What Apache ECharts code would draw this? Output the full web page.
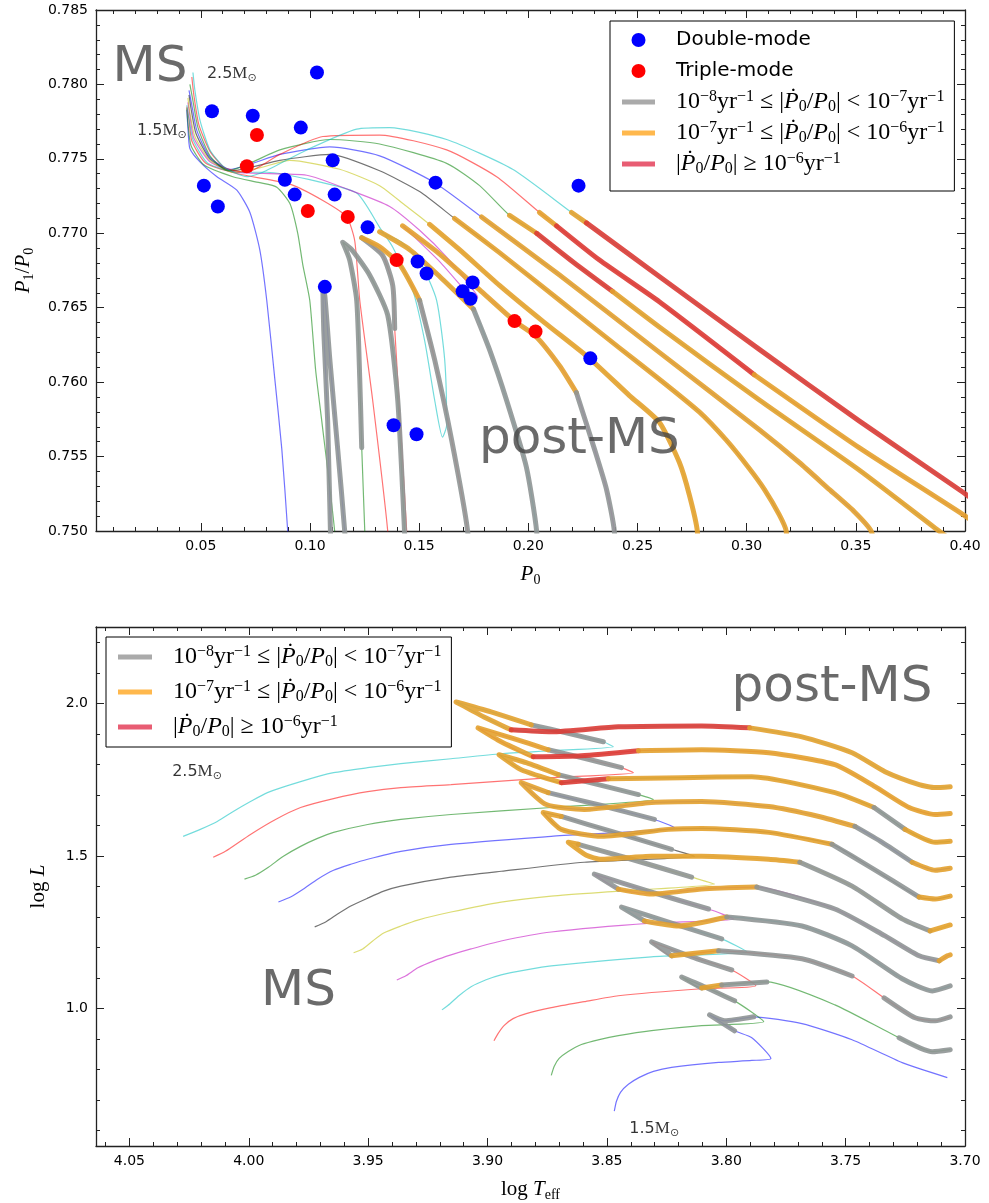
<!DOCTYPE html>
<html><head><meta charset="utf-8">
<script src="https://cdn.jsdelivr.net/npm/echarts@6/dist/echarts.min.js"></script>
<style>html,body{margin:0;padding:0;background:#fff;}#chart{width:989px;height:1203px;}</style>
</head><body><div id="chart"></div>
<script>
// ---------------- DATA ----------------
const masses = ['1.5','1.6','1.7','1.8','1.9','2.0','2.1','2.2','2.3','2.4','2.5'];
const thinColors = ['#0000ff','#008000','#ff0000','#00bfbf','#bf00bf','#bfbf00','#000000','#0000ff','#008000','#ff0000','#00bfbf'];
// category codes: 0 = thin only, 1 = 1e-8..1e-7, 2 = 1e-7..1e-6, 3 = >=1e-6 (per yr)
// Top panel: [P0, P1/P0, category of segment to next point]
const top15 = [[0.0436,0.7783,0],[0.0441,0.7771,0],[0.0450,0.7757,0],[0.0496,0.7748,0],[0.0574,0.7738,0],[0.0665,0.7729,0],[0.0725,0.7714,0],[0.0770,0.7689,0],[0.0802,0.7655,0],[0.0839,0.7602,0],[0.0871,0.7555,0],[0.0898,0.7500,0],[0.0912,0.7460,0],[0.1100,0.7460,1],[0.1081,0.7574,1],[0.1063,0.7635,1],[0.1059,0.7663,1],[0.1068,0.7658,1],[0.1091,0.7615,1],[0.1127,0.7555,1],[0.1159,0.7500,1],[0.1173,0.7460,1]];
const top16 = [[0.0436,0.7784,0],[0.0441,0.7774,0],[0.0455,0.7759,0],[0.0514,0.7746,0],[0.0647,0.7738,0],[0.0770,0.7734,0],[0.0848,0.7731,0],[0.0908,0.7720,0],[0.0944,0.7700,0],[0.0967,0.7679,0],[0.0999,0.7655,0],[0.1026,0.7608,0],[0.1054,0.7574,0],[0.1113,0.7500,0],[0.1127,0.7460,0],[0.1260,0.7460,0],[0.1251,0.7500,0],[0.1237,0.7556,1],[0.1228,0.7602,1],[0.1214,0.7655,1],[0.1182,0.7682,1],[0.1150,0.7694,1],[0.1191,0.7689,1],[0.1273,0.7672,1],[0.1356,0.7645,1],[0.1402,0.7588,1],[0.1433,0.7500,1],[0.1443,0.7460,1]];
const top17 = [[0.0436,0.7785,0],[0.0446,0.7776,0],[0.0459,0.7762,0],[0.0523,0.7747,0],[0.0670,0.7740,0],[0.0908,0.7733,0],[0.1059,0.7722,0],[0.1168,0.7711,0],[0.1205,0.7695,0],[0.1228,0.7655,0],[0.1287,0.7588,0],[0.1356,0.7500,0],[0.1365,0.7460,0],[0.1452,0.7460,0],[0.1443,0.7500,0],[0.1388,0.7636,1],[0.1379,0.7665,1],[0.1333,0.7685,1],[0.1237,0.7697,2],[0.1319,0.7691,2],[0.1411,0.7679,2],[0.1502,0.7655,1],[0.1571,0.7615,1],[0.1649,0.7561,1],[0.1722,0.7500,1],[0.1731,0.7460,1]];
const top18 = [[0.0436,0.7786,0],[0.0446,0.7777,0],[0.0464,0.7763,0],[0.0532,0.7747,0],[0.0670,0.7741,0],[0.0802,0.7741,0],[0.0999,0.7736,0],[0.1214,0.7727,0],[0.1319,0.7704,0],[0.1378,0.7691,0],[0.1470,0.7662,0],[0.1525,0.7628,0],[0.1571,0.7588,0],[0.1607,0.7563,0],[0.1626,0.7571,0],[0.1617,0.7615,0],[0.1580,0.7655,0],[0.1511,0.7679,0],[0.1420,0.7694,0],[0.1319,0.7701,2],[0.1457,0.7689,2],[0.1594,0.7671,2],[0.1749,0.7649,1],[0.1822,0.7622,1],[0.1900,0.7588,1],[0.1991,0.7543,1],[0.2038,0.7500,1],[0.2047,0.7460,1]];
const top19 = [[0.0441,0.7788,0],[0.0450,0.7779,0],[0.0468,0.7764,0],[0.0542,0.7748,0],[0.0661,0.7741,0],[0.0985,0.7739,0],[0.1182,0.7729,0],[0.1365,0.7718,0],[0.1502,0.7702,0],[0.1626,0.7684,0],[0.1731,0.7665,0],[0.1768,0.7657,0],[0.1749,0.7655,0],[0.1713,0.7661,0],[0.1594,0.7681,0],[0.1424,0.7705,2],[0.1594,0.7686,2],[0.1777,0.7662,2],[0.1937,0.7641,2],[0.2033,0.7631,2],[0.2143,0.7611,2],[0.2220,0.7593,1],[0.2303,0.7555,1],[0.2358,0.7528,1],[0.2394,0.7500,1],[0.2404,0.7460,1]];
const top20 = [[0.0441,0.7791,0],[0.0450,0.7781,0],[0.0473,0.7765,0],[0.0542,0.7749,0],[0.0652,0.7741,0],[0.0770,0.7744,0],[0.0908,0.7749,0],[0.1136,0.7743,0],[0.1319,0.7732,0],[0.1434,0.7719,0],[0.1548,0.7706,2],[0.1685,0.7689,2],[0.1868,0.7665,2],[0.2074,0.7640,2],[0.2280,0.7616,2],[0.2463,0.7591,2],[0.2600,0.7573,2],[0.2692,0.7546,2],[0.2738,0.7524,2],[0.2774,0.7500,2],[0.2783,0.7460,2]];
const top21 = [[0.0446,0.7793,0],[0.0455,0.7784,0],[0.0478,0.7767,0],[0.0542,0.7750,0],[0.0643,0.7742,0],[0.0862,0.7749,0],[0.1091,0.7753,0],[0.1319,0.7742,0],[0.1502,0.7728,0],[0.1662,0.7710,2],[0.1868,0.7687,2],[0.2143,0.7655,2],[0.2417,0.7623,2],[0.2600,0.7602,2],[0.2783,0.7580,2],[0.2907,0.7561,2],[0.3012,0.7542,2],[0.3081,0.7528,2],[0.3149,0.7511,2],[0.3181,0.7500,2],[0.3195,0.7460,2]];
const top22 = [[0.0446,0.7796,0],[0.0459,0.7786,0],[0.0482,0.7769,0],[0.0542,0.7751,0],[0.0633,0.7743,0],[0.0862,0.7753,0],[0.1091,0.7758,0],[0.1319,0.7752,0],[0.1571,0.7734,0],[0.1786,0.7711,2],[0.2143,0.7672,2],[0.2600,0.7620,2],[0.3058,0.7568,2],[0.3241,0.7546,2],[0.3378,0.7528,2],[0.3493,0.7513,2],[0.3570,0.7500,2],[0.3600,0.7480,2]];
const top23 = [[0.0450,0.7800,0],[0.0464,0.7789,0],[0.0487,0.7771,0],[0.0542,0.7752,0],[0.0624,0.7742,0],[0.0862,0.7756,0],[0.1091,0.7763,0],[0.1319,0.7760,0],[0.1626,0.7747,0],[0.1777,0.7732,0],[0.1914,0.7712,2],[0.2038,0.7700,3],[0.2211,0.7680,3],[0.2385,0.7661,2],[0.2600,0.7637,2],[0.3058,0.7588,2],[0.3515,0.7541,2],[0.3881,0.7500,2],[0.4064,0.7480,2]];
const top24 = [[0.0459,0.7805,0],[0.0468,0.7793,0],[0.0491,0.7773,0],[0.0542,0.7755,0],[0.0610,0.7744,0],[0.0711,0.7741,0],[0.0862,0.7753,0],[0.1059,0.7765,0],[0.1319,0.7766,0],[0.1626,0.7756,0],[0.1855,0.7738,0],[0.2051,0.7714,2],[0.2129,0.7705,3],[0.2326,0.7682,3],[0.2600,0.7654,3],[0.3035,0.7605,2],[0.3515,0.7556,2],[0.3991,0.7511,2],[0.4156,0.7494,2]];
const top25 = [[0.0464,0.7808,0],[0.0473,0.7796,0],[0.0496,0.7776,0],[0.0542,0.7756,0],[0.0610,0.7744,0],[0.0711,0.7738,0],[0.0784,0.7741,0],[0.0985,0.7756,0],[0.1214,0.7770,0],[0.1365,0.7771,0],[0.1626,0.7763,0],[0.1928,0.7743,0],[0.2198,0.7714,2],[0.2266,0.7707,3],[0.2600,0.7671,3],[0.3058,0.7622,3],[0.3515,0.7574,3],[0.3991,0.7526,3],[0.4156,0.7508,3]];
const topTracks = [top15, top16, top17, top18, top19, top20, top21, top22, top23, top24, top25];

// Bottom panel (HR diagram): [log Teff, log L, category]
const hrd15 = [[3.8469,0.6639,0],[3.8460,0.6965,0],[3.8443,0.7259,0],[3.8410,0.7520,0],[3.8364,0.7748,0],[3.8305,0.7944,0],[3.8229,0.8074,0],[3.8032,0.8237,0],[3.7893,0.8303,0],[3.7813,0.8368,0],[3.7893,0.9046,0],[3.7965,0.9274,1],[3.8070,0.9796,1],[3.8007,0.9600,1],[3.7885,0.9731,0],[3.7683,0.9509,0],[3.7473,0.8981,0],[3.7263,0.8231,0],[3.7074,0.7742,0]];
const hrd16 = [[3.8733,0.7813,0],[3.8721,0.8107,0],[3.8700,0.8368,0],[3.8662,0.8596,0],[3.8607,0.8824,0],[3.8532,0.8987,0],[3.8452,0.9118,0],[3.8313,0.9281,0],[3.8103,0.9444,0],[3.7843,0.9574,0],[3.7965,1.0254,1],[3.8080,1.0677,1],[3.8187,1.1036,1],[3.8103,1.0677,2],[3.8019,1.0775,1],[3.7830,1.0873,0],[3.7545,1.0123,0],[3.7276,0.9046,1],[3.7137,0.8590,1],[3.7062,0.8655,1]];
const hrd17 = [[3.8973,0.8948,0],[3.8956,0.9183,0],[3.8931,0.9444,0],[3.8893,0.9672,0],[3.8838,0.9835,0],[3.8733,1.0031,0],[3.8595,1.0227,0],[3.8452,1.0422,0],[3.8103,1.0651,0],[3.7876,1.0749,0],[3.7977,1.1265,1],[3.8145,1.1697,1],[3.8313,1.2186,1],[3.8229,1.1730,2],[3.8032,1.1893,1],[3.7683,1.1632,1],[3.7473,1.1069,0],[3.7339,1.0351,1],[3.7209,0.9698,1],[3.7125,0.9600,1],[3.7062,0.9731,1]];
const hrd18 = [[3.9191,0.9959,0],[3.9157,1.0161,0],[3.9120,1.0422,0],[3.9069,1.0716,0],[3.9006,1.0944,0],[3.8943,1.1107,0],[3.8838,1.1270,0],[3.8733,1.1401,0],[3.8313,1.1697,0],[3.7914,1.1860,0],[3.8019,1.2284,1],[3.8229,1.2803,1],[3.8439,1.3328,1],[3.8343,1.2872,2],[3.8200,1.2708,2],[3.7998,1.3002,1],[3.7683,1.2708,1],[3.7473,1.2056,1],[3.7263,1.0977,1],[3.7137,1.0580,1],[3.7062,1.0743,1]];
const hrd19 = [[3.9380,1.0938,0],[3.9342,1.1075,0],[3.9292,1.1336,0],[3.9225,1.1564,0],[3.9153,1.1760,0],[3.9069,1.1955,0],[3.8943,1.2216,0],[3.8733,1.2510,0],[3.8313,1.2803,0],[3.7969,1.2937,0],[3.8074,1.3263,1],[3.8313,1.3815,1],[3.8553,1.4404,1],[3.8452,1.3915,2],[3.8313,1.3752,2],[3.8103,1.3915,2],[3.7872,1.3980,1],[3.7545,1.3263,1],[3.7335,1.2382,1],[3.7192,1.1730,1],[3.7108,1.1567,2],[3.7074,1.1730,2],[3.7062,1.1762,2]];
const hrd20 = [[3.9561,1.1828,0],[3.9523,1.1955,0],[3.9481,1.2216,0],[3.9435,1.2477,0],[3.9363,1.2705,0],[3.9292,1.2901,0],[3.9153,1.3165,0],[3.8943,1.3491,0],[3.8733,1.3687,0],[3.8452,1.3847,0],[3.8049,1.4078,0],[3.8145,1.4306,1],[3.8397,1.4893,1],[3.8620,1.5382,2],[3.8662,1.5447,2],[3.8586,1.5021,2],[3.8523,1.4893,2],[3.8313,1.4991,2],[3.8103,1.4991,2],[3.7822,1.4893,2],[3.7692,1.4795,1],[3.7473,1.4013,1],[3.7263,1.2937,1],[3.7146,1.2545,2],[3.7062,1.2741,2]];
const hrd21 = [[3.9724,1.2676,0],[3.9678,1.2839,0],[3.9628,1.3097,0],[3.9573,1.3361,0],[3.9502,1.3619,0],[3.9435,1.3847,0],[3.9363,1.4013,0],[3.9153,1.4306,0],[3.8943,1.4499,0],[3.8595,1.4795,0],[3.8133,1.4991,0],[3.8229,1.5219,1],[3.8481,1.5804,1],[3.8691,1.6294,2],[3.8767,1.6424,2],[3.8691,1.5871,2],[3.8523,1.5643,2],[3.8242,1.5871,2],[3.8103,1.5903,2],[3.7822,1.5773,2],[3.7557,1.5382,1],[3.7402,1.4662,1],[3.7192,1.3654,2],[3.7125,1.3589,2],[3.7062,1.3687,2]];
const hrd22 = [[3.9876,1.3491,0],[3.9825,1.3654,0],[3.9771,1.3915,0],[3.9712,1.4241,0],[3.9645,1.4534,0],[3.9573,1.4728,0],[3.9502,1.4893,0],[3.9363,1.5152,0],[3.9153,1.5382,0],[3.8733,1.5643,0],[3.8217,1.5936,0],[3.8301,1.6196,1],[3.8523,1.6652,1],[3.8746,1.7076,2],[3.8859,1.7402,2],[3.8754,1.6685,2],[3.8595,1.6522,2],[3.8313,1.6751,2],[3.8103,1.6783,2],[3.7822,1.6620,2],[3.7612,1.6294,2],[3.7461,1.5968,1],[3.7347,1.5447,1],[3.7221,1.4795,2],[3.7125,1.4534,2],[3.7062,1.4599,2]];
const hrd23 = [[4.0018,1.4241,0],[3.9972,1.4369,0],[3.9918,1.4630,0],[3.9855,1.4991,0],[3.9783,1.5315,0],[3.9712,1.5576,0],[3.9645,1.5773,0],[3.9502,1.6032,0],[3.9363,1.6196,0],[3.9153,1.6359,0],[3.8733,1.6587,0],[3.8305,1.6848,0],[3.8368,1.7011,1],[3.8536,1.7337,1],[3.8704,1.7663,2],[3.8838,1.8055,2],[3.8952,1.8316,2],[3.8859,1.7826,2],[3.8691,1.7402,3],[3.8494,1.7533,2],[3.8187,1.7565,2],[3.7893,1.7598,2],[3.7545,1.7076,2],[3.7381,1.6587,1],[3.7251,1.5871,2],[3.7125,1.5447,2],[3.7062,1.5480,2]];
const hrd24 = [[4.0149,1.4958,0],[4.0098,1.5152,0],[3.9993,1.5706,0],[3.9888,1.6196,0],[3.9783,1.6587,0],[3.9645,1.6880,0],[3.9502,1.7108,0],[3.9363,1.7239,0],[3.9153,1.7337,0],[3.8733,1.7565,0],[3.8389,1.7728,0],[3.8439,1.7892,1],[3.8586,1.8185,1],[3.8746,1.8479,2],[3.8901,1.8870,2],[3.9040,1.9196,2],[3.8943,1.8740,2],[3.8809,1.8250,3],[3.8607,1.8283,3],[3.8368,1.8446,2],[3.8103,1.8479,2],[3.7822,1.8381,2],[3.7545,1.7989,2],[3.7377,1.7271,2],[3.7234,1.6587,2],[3.7125,1.6359,2],[3.7062,1.6392,2]];
const hrd25 = [[4.0275,1.5642,0],[4.0203,1.5871,0],[4.0132,1.6130,0],[4.0065,1.6456,0],[3.9993,1.6783,0],[3.9922,1.7076,0],[3.9783,1.7435,0],[3.9645,1.7728,0],[3.9502,1.7891,0],[3.9363,1.8022,0],[3.9153,1.8185,0],[3.8943,1.8348,0],[3.8733,1.8446,0],[3.8473,1.8577,0],[3.8515,1.8740,1],[3.8670,1.9033,1],[3.8817,1.9294,2],[3.8985,1.9718,2],[3.9132,2.0044,2],[3.9069,1.9783,2],[3.9015,1.9555,2],[3.8901,1.9131,3],[3.8733,1.9066,3],[3.8452,1.9229,3],[3.8103,1.9261,3],[3.7902,1.9196,2],[3.7683,1.8903,2],[3.7473,1.8381,2],[3.7335,1.7761,2],[3.7192,1.7337,2],[3.7125,1.7239,2],[3.7062,1.7271,2]];
const hrdTracks = [hrd15, hrd16, hrd17, hrd18, hrd19, hrd20, hrd21, hrd22, hrd23, hrd24, hrd25];

// Observed stars (top panel): [P0, P1/P0]
const doubleMode = [[0.1032,0.7808],[0.0551,0.7782],[0.0738,0.7779],[0.0958,0.7771],[0.1104,0.7749],[0.0514,0.7732],[0.0578,0.7718],[0.0885,0.7736],[0.0930,0.7726],[0.1113,0.7726],[0.1264,0.7704],[0.1575,0.7734],[0.2230,0.7732],[0.1068,0.7664],[0.1493,0.7681],[0.1534,0.7673],[0.1745,0.7667],[0.1699,0.7661],[0.1735,0.7656],[0.2284,0.7616],[0.1383,0.7571],[0.1488,0.7565]];
const tripleMode = [[0.0757,0.7766],[0.0711,0.7745],[0.0990,0.7715],[0.1173,0.7711],[0.1397,0.7682],[0.1937,0.7641],[0.2033,0.7634]];

const catNames = ['', 'rate1', 'rate2', 'rate3'];
const catColors = ['', '#8f9595', '#e3a12d', '#dc3b35'];
const legendColors = ['', '#aaaaaa', '#ffb84d', '#e85d73'];

// annotation positions (data coordinates)
const topNotes = {ms:[0.0267,0.7811], post:[0.2234,0.7561], m25:[0.0528,0.7807], m15:[0.0208,0.7769]};
const hrdNotes = {ms:[3.9792,1.055], post:[3.7557,2.050], m25:[4.0321,1.776], m15:[3.8406,0.6064]};

// ---------------- CHART ----------------
const SERIF = 'Liberation Serif';
const mathRich = {
  n:{fontFamily:SERIF,fontSize:24,lineHeight:26,color:'#000'},
  i:{fontFamily:SERIF,fontStyle:'italic',fontSize:24,lineHeight:26,color:'#000'},
  sp:{fontFamily:SERIF,fontSize:16,lineHeight:14,verticalAlign:'top',color:'#000'},
  sb:{fontFamily:SERIF,fontSize:16,lineHeight:14,verticalAlign:'bottom',color:'#000'},
  s:{fontFamily:'DejaVu Sans',fontSize:20,lineHeight:26,color:'#000'}
};
const legendText = {
  'Double-mode':'{s|Double-mode}',
  'Triple-mode':'{s|Triple-mode}',
  'rate1':'{n|10}{sp|−8}{n|yr}{sp|−1}{n| ≤ |}{i|Ṗ}{sb|0}{n|/}{i|P}{sb|0}{n|| < 10}{sp|−7}{n|yr}{sp|−1}',
  'rate2':'{n|10}{sp|−7}{n|yr}{sp|−1}{n| ≤ |}{i|Ṗ}{sb|0}{n|/}{i|P}{sb|0}{n|| < 10}{sp|−6}{n|yr}{sp|−1}',
  'rate3':'{n||}{i|Ṗ}{sb|0}{n|/}{i|P}{sb|0}{n|| ≥ 10}{sp|−6}{n|yr}{sp|−1}'
};

const series = [];
function addTrack(pts, g, color, mass) {
  series.push({
    type:'line', name:'M'+mass+(g?'-hrd':'-puls'), xAxisIndex:g*2, yAxisIndex:g*2,
    data: pts.map(p=>[p[0],p[1]]), showSymbol:false, smooth:0.2, silent:true,
    lineStyle:{color:color,width:1.2,opacity:0.55}, z:2, animation:false
  });
  let run = null;
  const flush = () => { if (run) {
    series.push({type:'line', name:catNames[run.c], color:catColors[run.c], xAxisIndex:g*2, yAxisIndex:g*2,
      data:run.d, showSymbol:false, smooth:0.2, silent:true,
      lineStyle:{color:catColors[run.c], width:5, opacity:0.9, cap:'round', join:'round'}, z:3});
    run = null; } };
  for (let i=0;i<pts.length-1;i++) {
    const c = pts[i][2];
    if (c>0) {
      if (!run || run.c!==c) { flush(); run = {c:c, d:[[pts[i][0],pts[i][1]]]}; }
      run.d.push([pts[i+1][0],pts[i+1][1]]);
    } else flush();
  }
  flush();
}
topTracks.forEach((t,k)=>addTrack(t,0,thinColors[k],masses[k]));
hrdTracks.forEach((t,k)=>addTrack(t,1,thinColors[k],masses[k]));

series.push({type:'scatter', name:'Double-mode', xAxisIndex:0, yAxisIndex:0, data:doubleMode, symbolSize:14, itemStyle:{color:'#0000ff',opacity:1}, z:6, silent:true});
series.push({type:'scatter', name:'Triple-mode', xAxisIndex:0, yAxisIndex:0, data:tripleMode, symbolSize:14, itemStyle:{color:'#ff0000',opacity:1}, z:6, silent:true});

const noteRich = {
  big:{fontFamily:'DejaVu Sans',fontSize:50,color:'#454545'},
  a:{fontFamily:'DejaVu Sans',fontSize:16,lineHeight:20,color:'#000'},
  m:{fontFamily:SERIF,fontSize:17,lineHeight:20,color:'#000'},
  o:{fontFamily:'DejaVu Sans',fontSize:11,lineHeight:11,verticalAlign:'bottom',color:'#000'}
};
function note(g, pos, text, place) {
  series.push({type:'scatter', name:'note', xAxisIndex:g*2, yAxisIndex:g*2, data:[pos], symbolSize:0, silent:true, z:8,
    label:{show:true, position:place, distance:0, formatter:text, rich:noteRich}});
}
note(0, topNotes.ms, '{big|MS}', 'inside');
note(0, topNotes.post, '{big|post-MS}', 'inside');
note(0, topNotes.m25, '{a|2.5}{m|M}{o|⊙}', 'right');
note(0, topNotes.m15, '{a|1.5}{m|M}{o|⊙}', 'right');
note(1, hrdNotes.ms, '{big|MS}', 'inside');
note(1, hrdNotes.post, '{big|post-MS}', 'inside');
note(1, hrdNotes.m25, '{a|2.5}{m|M}{o|⊙}', 'right');
note(1, hrdNotes.m15, '{a|1.5}{m|M}{o|⊙}', 'right');

const AX = '#222';
function axis(extra, labels) {
  return Object.assign({
    type:'value', splitLine:{show:false},
    axisLine:{show:true,onZero:false,lineStyle:{color:AX,width:1.3}},
    axisTick:{show:true,inside:true,length:8,lineStyle:{color:AX,width:1}},
    minorTick:{show:true,splitNumber:5,length:4,lineStyle:{color:AX,width:1}},
    axisLabel: labels ? Object.assign({show:true,color:'#000',fontFamily:'DejaVu Sans',fontSize:14,margin:8}, labels) : {show:false}
  }, extra);
}
const f2 = v=>v.toFixed(2), f3 = v=>v.toFixed(3), f1 = v=>v.toFixed(1);
const nameRich = {
  n:{fontFamily:SERIF,fontSize:21,lineHeight:26,color:'#000'},
  i:{fontFamily:SERIF,fontStyle:'italic',fontSize:21,lineHeight:26,color:'#000'},
  sb:{fontFamily:SERIF,fontSize:14,lineHeight:14,verticalAlign:'bottom',color:'#000'}
};
const legTextStyle = {rich:mathRich, height:26, lineHeight:26, padding:[0,0,0,16]};

const option = {
  animation:false,
  backgroundColor:'#ffffff',
  grid:[{left:96,top:10,width:869,height:521},{left:96,top:627,width:869,height:520}],
  xAxis:[
    axis({gridIndex:0,position:'bottom',min:0.002,max:0.40,splitNumber:8,
      name:'{i|P}{sb|0}',nameLocation:'middle',nameGap:30,nameTextStyle:{rich:nameRich}},
      {showMinLabel:false,formatter:f2}),
    axis({gridIndex:0,position:'top',min:0.002,max:0.40,splitNumber:8}),
    axis({gridIndex:1,position:'bottom',inverse:true,min:3.70,max:4.064,interval:0.05,
      name:'{n|log }{i|T}{sb|eff}',nameLocation:'middle',nameGap:30,nameTextStyle:{rich:nameRich}},
      {showMaxLabel:false,formatter:f2}),
    axis({gridIndex:1,position:'top',inverse:true,min:3.70,max:4.064,interval:0.05})
  ],
  yAxis:[
    axis({gridIndex:0,position:'left',min:0.750,max:0.785,interval:0.005,
      name:'{i|P}{sb|1}{n|/}{i|P}{sb|0}',nameLocation:'middle',nameGap:60,nameTextStyle:{rich:nameRich}},
      {formatter:f3}),
    axis({gridIndex:0,position:'right',min:0.750,max:0.785,interval:0.005}),
    axis({gridIndex:1,position:'left',min:0.55,max:2.25,splitNumber:3,
      name:'{n|log }{i|L}',nameLocation:'middle',nameGap:45,nameTextStyle:{rich:nameRich}},
      {showMinLabel:false,showMaxLabel:false,formatter:f1}),
    axis({gridIndex:1,position:'right',min:0.55,max:2.25,splitNumber:3})
  ],
  legend:[
    {left:610, top:21, orient:'vertical', selectedMode:false,
     data:[
      {name:'Double-mode',icon:'circle',itemStyle:{color:'#0000ff'}},
      {name:'Triple-mode',icon:'circle',itemStyle:{color:'#ff0000'}},
      {name:'rate1',icon:'path://M0,0H33V5H0Z',itemStyle:{color:legendColors[1]}},
      {name:'rate2',icon:'path://M0,0H33V5H0Z',itemStyle:{color:legendColors[2]}},
      {name:'rate3',icon:'path://M0,0H33V5H0Z',itemStyle:{color:legendColors[3]}}],
     itemWidth:33, itemHeight:14, itemGap:5, padding:[6,10,14,12],
     borderColor:'#000', borderWidth:1, backgroundColor:'#fff',
     formatter:n=>legendText[n], textStyle:legTextStyle},
    {left:106, top:637, orient:'vertical', selectedMode:false,
     data:[
      {name:'rate1',icon:'path://M0,0H34V5H0Z',itemStyle:{color:legendColors[1]}},
      {name:'rate2',icon:'path://M0,0H34V5H0Z',itemStyle:{color:legendColors[2]}},
      {name:'rate3',icon:'path://M0,0H34V5H0Z',itemStyle:{color:legendColors[3]}}],
     itemWidth:34, itemHeight:14, itemGap:9, padding:[7,10,7,12],
     borderColor:'#000', borderWidth:1, backgroundColor:'#fff',
     formatter:n=>legendText[n], textStyle:legTextStyle}
  ],
  series:series
};
const chart = echarts.init(document.getElementById('chart'), null, {renderer:'canvas'});
chart.setOption(option);
</script>
</body></html>
